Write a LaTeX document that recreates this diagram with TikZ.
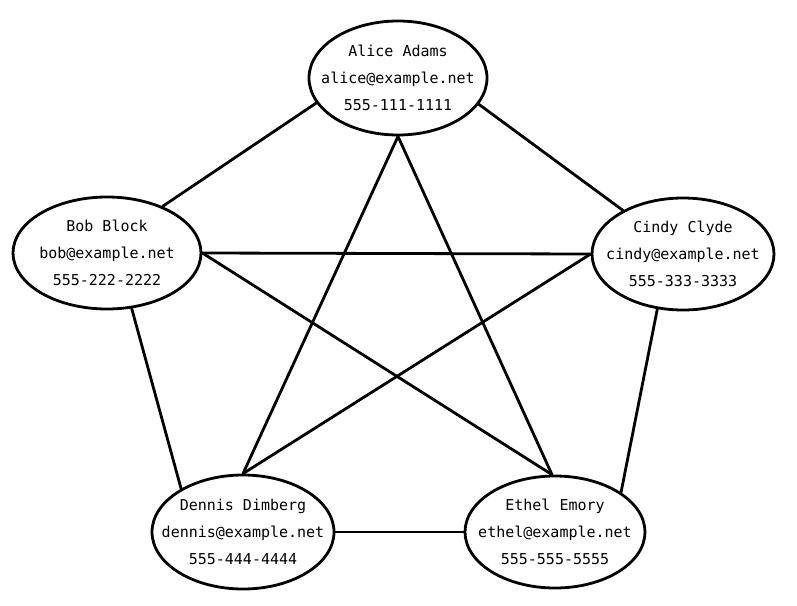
\documentclass[tikz,border=0pt]{standalone}
\usepackage{fontspec}
\setmonofont{DejaVu Sans Mono}
\usetikzlibrary{shapes.geometric}
\begin{document}
\begin{tikzpicture}[x=1pt,y=-1pt,
  person/.style={ellipse,draw,line width=2.8pt,inner sep=0pt},
  persontext/.style={inner sep=0pt,align=center,
    font=\ttfamily\fontsize{15pt}{27pt}\selectfont},
  link/.style={line width=2.8pt,line cap=round}]
\useasboundingbox (0,0) rectangle (797,605);
\node[person,minimum width=178pt,minimum height=114pt] (alice) at (398,78) {};
\node[person,minimum width=188pt,minimum height=112pt] (bob) at (107,253) {};
\node[person,minimum width=182pt,minimum height=112pt] (cindy) at (683,254) {};
\node[person,minimum width=182pt,minimum height=114pt] (dennis) at (243,532) {};
\node[person,minimum width=180pt,minimum height=112pt] (ethel) at (555,532) {};
\node[persontext] (alicet) at (alice) {Alice Adams\\alice@example.net\\555-111-1111};
\node[persontext] (bobt) at (bob) {Bob Block\\bob@example.net\\555-222-2222};
\node[persontext] (cindyt) at (cindy) {Cindy Clyde\\cindy@example.net\\555-333-3333};
\node[persontext] (dennist) at (dennis) {Dennis Dimberg\\dennis@example.net\\555-444-4444};
\node[persontext] (ethelt) at (ethel) {Ethel Emory\\ethel@example.net\\555-555-5555};
\draw[link] (alice.197) -- (bob.40);
\draw[link] (alice.342) -- (cindy.144);
\draw[link] (alice.270) -- (dennis.90);
\draw[link] (alice.270) -- (ethel.93);
\draw[link] (bob.0) -- (cindy.180);
\draw[link] (bob.0) -- (ethel.93);
\draw[link] (cindy.180) -- (dennis.90);
\draw[link] (bob.294) -- (dennis.145);
\draw[link] (cindy.245) -- (ethel.31);
\draw[link] (dennis.0) -- (ethel.180);
\end{tikzpicture}
\end{document}
